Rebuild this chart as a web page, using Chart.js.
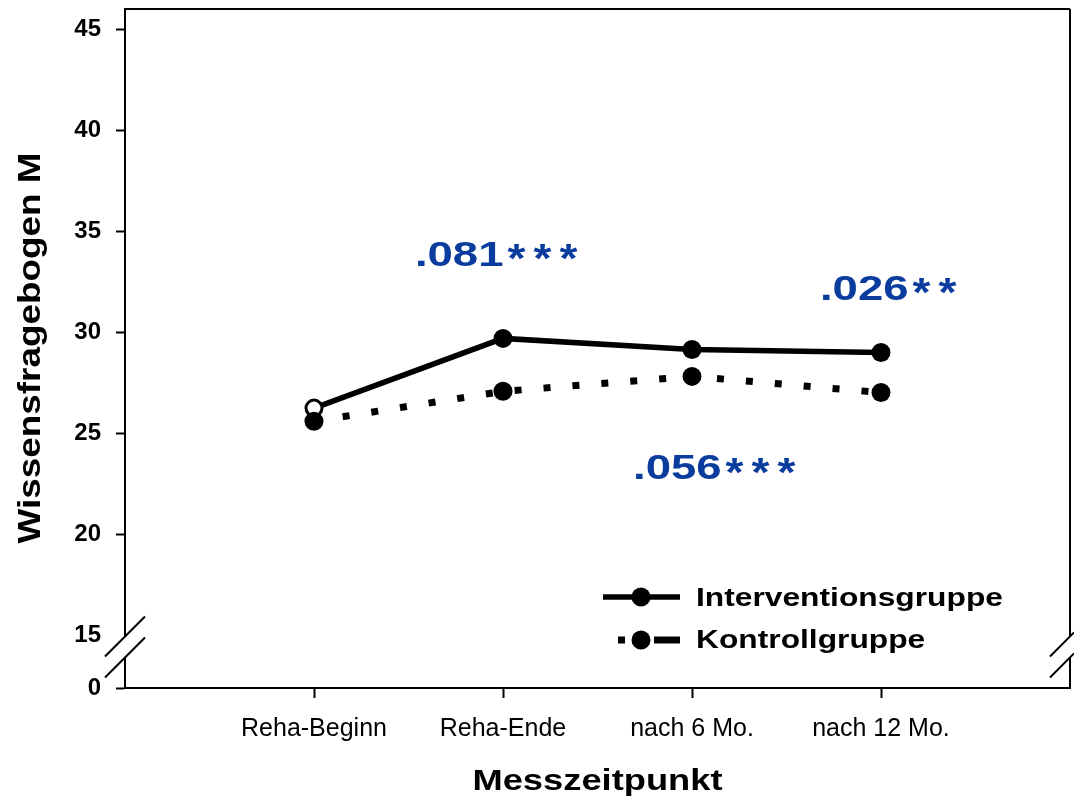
<!DOCTYPE html>
<html>
<head>
<meta charset="utf-8">
<script src="https://cdn.jsdelivr.net/npm/chart.js@4.4.1/dist/chart.umd.min.js"></script>
<style>
  html, body { margin: 0; padding: 0; background: #fff; }
  #c { display: block; }
</style>
</head>
<body>
<canvas id="c" width="1074" height="807"></canvas>
<script>
// ---- data ----
const categories = ['Reha-Beginn', 'Reha-Ende', 'nach 6 Mo.', 'nach 12 Mo.'];
const interventionValues = [26.25, 29.7, 29.15, 29.0];
const kontrollValues = [25.6, 27.08, 27.82, 27.02];
const yTickValues = [15, 20, 25, 30, 35, 40, 45];
const yBreakValue = 12.4;          // axis bottom, labelled "0"
const seriesNames = ['Interventionsgruppe', 'Kontrollgruppe'];
const effectNumbers = ['.081', '.026', '.056'];
const effectStars = ['***', '**', '***'];
const effectX = [1.534, 3.677, 2.688];   // left edge, in x-axis units
const effectY = [33.78, 32.1, 23.2];

const FONT = "'Liberation Sans', Arial, Helvetica, sans-serif";
const BLUE = '#0a3c9e';

// draws text, returns its advance width in pixels
function drawText(ctx, text, x, y, font, sx, align, spacing, color) {
  ctx.save();
  ctx.font = font;
  ctx.fillStyle = color || '#000';
  ctx.textBaseline = 'middle';
  if ('letterSpacing' in ctx) ctx.letterSpacing = (spacing || 0) + 'px';
  const w = ctx.measureText(text).width - (spacing || 0);
  let x0 = x;
  if (align === 'center') x0 = x - w * sx / 2;
  else if (align === 'right') x0 = x - w * sx;
  ctx.translate(x0, y);
  ctx.scale(sx, 1);
  ctx.textAlign = 'left';
  ctx.fillText(text, 0, 0);
  ctx.restore();
  return w * sx;
}

function zeroPad(s) { s.paddingTop = 0; s.paddingBottom = 0; s.paddingLeft = 0; s.paddingRight = 0; }

const decorPlugin = {
  id: 'decor',
  afterDraw(chart) {
    const ctx = chart.ctx;
    const a = chart.chartArea;
    const xs = chart.scales.x, ys = chart.scales.y;
    const yc = ys.getPixelForValue(15);
    const g1 = yc + 1, g2 = yc + 22;
    ctx.save();
    // erase axis gaps
    ctx.fillStyle = '#fff';
    ctx.fillRect(a.left - 3, g1, 6, g2 - g1);
    ctx.fillRect(a.right - 3, g1, 6, g2 - g1);
    ctx.strokeStyle = '#000';
    ctx.lineWidth = 2;
    // top & right borders
    ctx.beginPath();
    ctx.moveTo(a.left, a.top); ctx.lineTo(a.right, a.top);
    ctx.moveTo(a.right, a.top); ctx.lineTo(a.right, g1);
    ctx.moveTo(a.right, g2); ctx.lineTo(a.right, a.bottom + 1);
    ctx.stroke();
    // break marks
    ctx.beginPath();
    [g1, g2].forEach(yy => {
      ctx.moveTo(a.left - 20, yy + 20); ctx.lineTo(a.left + 20, yy - 20);
      ctx.moveTo(a.right - 20, yy + 20); ctx.lineTo(a.right + 4, yy - 4);
    });
    ctx.stroke();

    // effect sizes
    effectNumbers.forEach((t, i) => {
      const px = xs.getPixelForValue(effectX[i]);
      const py = ys.getPixelForValue(effectY[i]);
      const w = drawText(ctx, t, px, py, 'bold 35px ' + FONT, 1.3, 'left', 0, BLUE);
      drawText(ctx, effectStars[i], px + w + 4, py + 5, 'bold 40px ' + FONT, 1.15, 'left', 7, BLUE);
    });

    // legend
    const lx0 = 603, lx1 = 680, lc = 641, ly1 = 597, ly2 = 640, tx = 696;
    ctx.fillStyle = '#000';
    ctx.lineWidth = 5.5;
    ctx.beginPath(); ctx.moveTo(lx0, ly1); ctx.lineTo(lx1, ly1); ctx.stroke();
    ctx.beginPath(); ctx.arc(lc, ly1, 9.5, 0, Math.PI * 2); ctx.fill();
    ctx.fillRect(618, ly2 - 3.5, 7, 7);
    ctx.beginPath(); ctx.arc(lc, ly2, 9.5, 0, Math.PI * 2); ctx.fill();
    ctx.lineWidth = 7;
    ctx.beginPath(); ctx.moveTo(654, ly2); ctx.lineTo(lx1, ly2); ctx.stroke();
    drawText(ctx, seriesNames[0], tx, ly1 + 2, 'bold 25px ' + FONT, 1.27, 'left', 0);
    drawText(ctx, seriesNames[1], tx, ly2 + 1, 'bold 25px ' + FONT, 1.27, 'left', 0);

    // axis titles
    drawText(ctx, 'Messzeitpunkt', (a.left + a.right) / 2, 782, 'bold 30px ' + FONT, 1.21, 'center', 0);
    ctx.save();
    ctx.translate(31, 348);
    ctx.rotate(-Math.PI / 2);
    drawText(ctx, 'Wissensfragebogen M', 0, 0, 'bold 31px ' + FONT, 1.19, 'center', 0);
    ctx.restore();
    ctx.restore();
  }
};

new Chart(document.getElementById('c'), {
  type: 'line',
  data: {
    datasets: [
      {
        label: seriesNames[1],
        data: kontrollValues.map((v, i) => ({ x: i + 1, y: v })),
        borderColor: '#000',
        borderWidth: 7,
        borderDash: [7, 22],
        borderCapStyle: 'butt',
        pointRadius: 9.5,
        pointBackgroundColor: '#000',
        pointBorderWidth: 0,
        tension: 0,
        clip: false
      },
      {
        label: seriesNames[0],
        data: interventionValues.map((v, i) => ({ x: i + 1, y: v })),
        borderColor: '#000',
        borderWidth: 5.5,
        pointRadius: [8, 9.5, 9.5, 9.5],
        pointBackgroundColor: ['#fff', '#000', '#000', '#000'],
        pointBorderColor: '#000',
        pointBorderWidth: [3, 0, 0, 0],
        tension: 0,
        clip: false
      }
    ]
  },
  options: {
    responsive: false,
    animation: false,
    layout: { autoPadding: false, padding: { top: 9, right: 4, left: 0, bottom: 0 } },
    plugins: { legend: { display: false }, tooltip: { enabled: false } },
    scales: {
      x: {
        type: 'linear',
        min: 0, max: categories.length + 1,
        afterBuildTicks: s => { s.ticks = categories.map((c, i) => ({ value: i + 1 })); },
        afterFit: s => { s.height = 119; zeroPad(s); },
        ticks: {
          callback: v => categories[v - 1] || '',
          font: { family: FONT, size: 25 },
          color: '#000',
          padding: 16,
          maxRotation: 0,
          autoSkip: false
        },
        grid: { drawOnChartArea: false, drawTicks: true, tickLength: 10, tickWidth: 2, tickColor: '#000' },
        border: { display: true, color: '#000', width: 2 }
      },
      y: {
        type: 'linear',
        min: yBreakValue, max: 46,
        afterBuildTicks: s => { s.ticks = [yBreakValue].concat(yTickValues).map(v => ({ value: v })); },
        afterFit: s => { s.width = 125; zeroPad(s); },
        ticks: {
          callback: v => (v === yBreakValue ? '0' : String(v)),
          font: { family: FONT, size: 24, weight: 'bold' },
          color: '#000',
          padding: 15,
          autoSkip: false
        },
        grid: {
          drawOnChartArea: false, drawTicks: true, tickLength: 9, tickWidth: 2,
          tickColor: c => (c.tick && c.tick.value === 15 ? 'rgba(0,0,0,0)' : '#000')
        },
        border: { display: true, color: '#000', width: 2 }
      }
    }
  },
  plugins: [decorPlugin]
});
</script>
</body>
</html>
